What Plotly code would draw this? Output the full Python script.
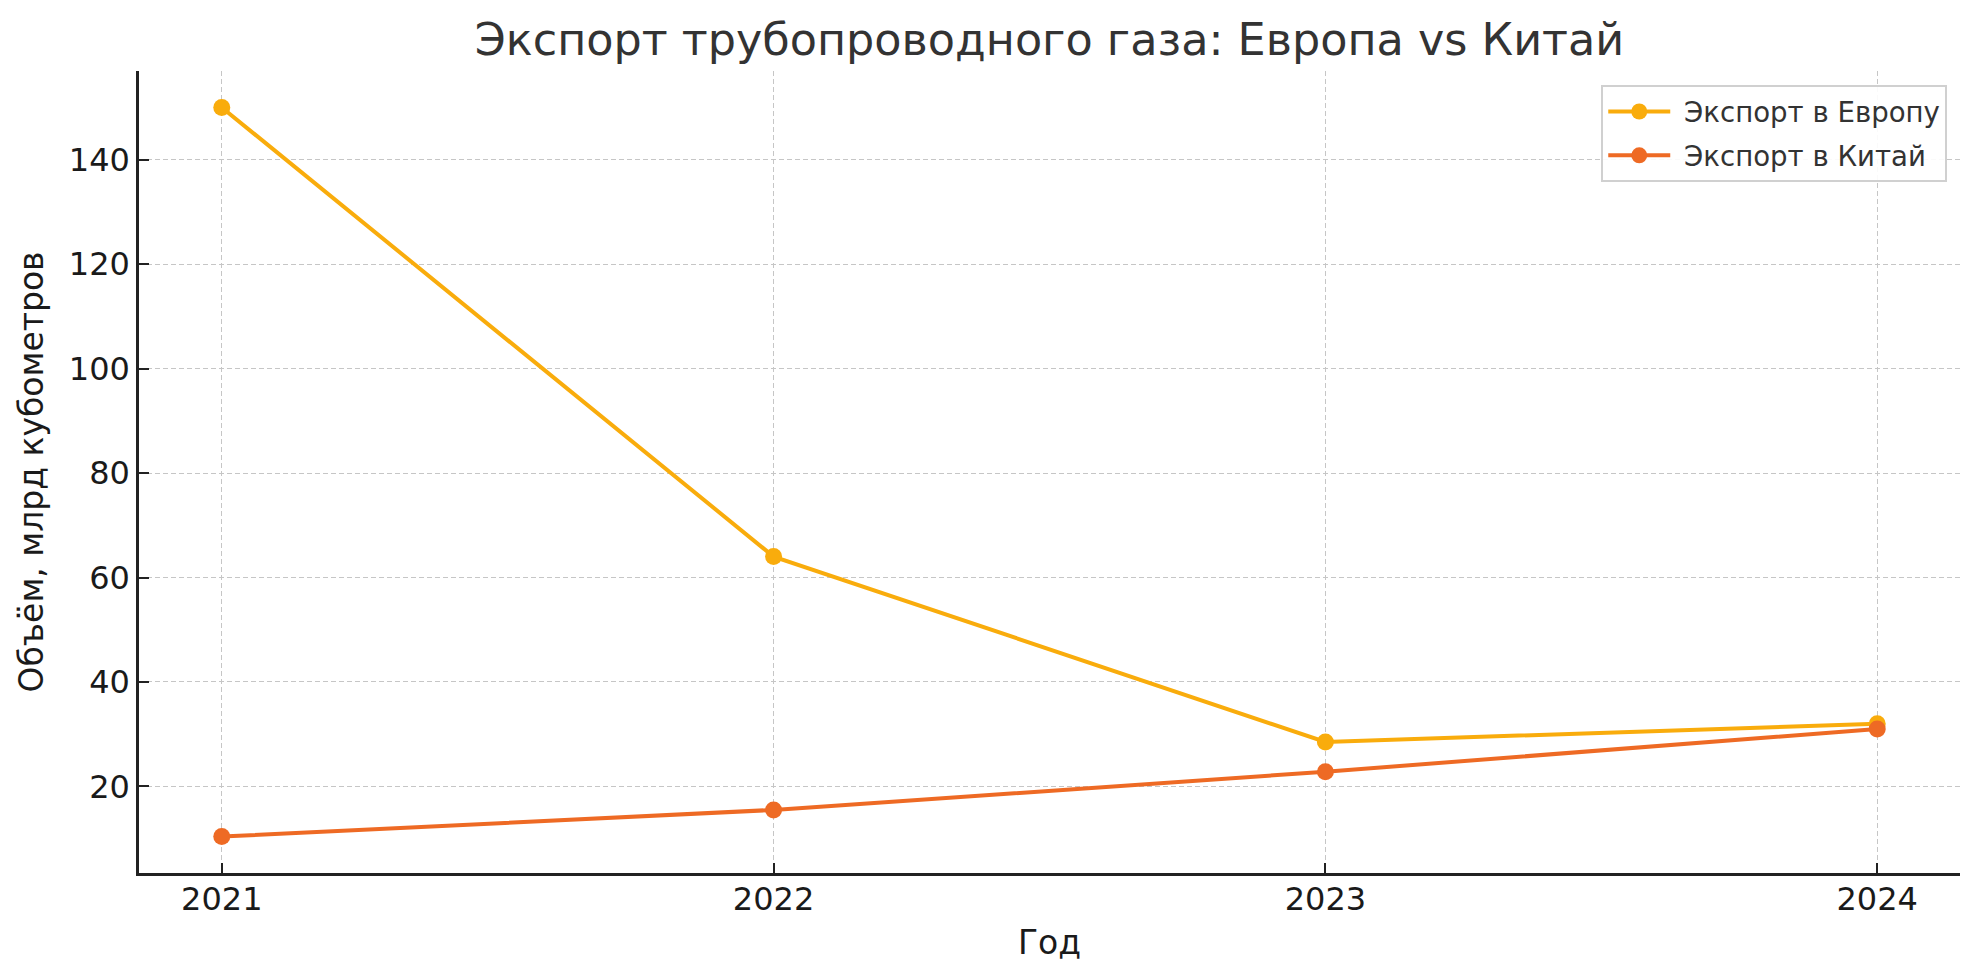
import plotly.graph_objects as go

years = [2021, 2022, 2023, 2024]
europe = [150, 64, 28.5, 32]
china = [10.4, 15.5, 22.8, 31]
series_names = ["Экспорт в Европу", "Экспорт в Китай"]
y_ticks = [20, 40, 60, 80, 100, 120, 140]

title_text = "Экспорт трубопроводного газа: Европа vs Китай"
x_title = "Год"
y_title = "Объём, млрд кубометров"

# page body has an 8px default margin, so the figure is sized to fit inside it
PAGE_PAD = 8
W, H = 1979 - 2 * PAGE_PAD, 980 - 2 * PAGE_PAD
L, T = 139 - PAGE_PAD, 71 - PAGE_PAD
R = W - (1960 - PAGE_PAD)
B = H - (873 - PAGE_PAD)
FONT = "DejaVu Sans"

fig = go.Figure()
for i, (name, vals, color) in enumerate([(series_names[0], europe, "#F9AC0C"),
                                         (series_names[1], china, "#EE6A24")]):
    fig.add_trace(go.Scatter(
        x=years, y=vals, name="\u00a0" + name, mode="lines+markers",
        legendgroup=f"g{i}",
        line=dict(color=color, width=4),
        marker=dict(color=color, size=17),
    ))

grid = dict(showgrid=True, gridcolor="#c6c6c6", gridwidth=1.4, griddash="5px,3px")

fig.update_layout(
    width=W, height=H,
    margin=dict(l=L, r=R, t=T, b=B, autoexpand=False),
    paper_bgcolor="white", plot_bgcolor="white",
    font=dict(family=FONT, color="#1a1a1a"),
    title=dict(text=title_text, x=0.5, xref="paper", xanchor="center",
               y=1 - (39 - PAGE_PAD) / H, yref="container", yanchor="middle",
               font=dict(size=44.5, color="#333333", family=FONT)),
    legend=dict(x=0.993, y=0.9825, xanchor="right", yanchor="top",
                bgcolor="rgba(255,255,255,0.9)", bordercolor="#d0d0d0", borderwidth=2,
                itemwidth=62, tracegroupgap=5,
                font=dict(size=27.6, color="#333333", family=FONT)),
    xaxis=dict(range=[2020.85, 2024.15], tickmode="array", tickvals=years,
               ticktext=[str(y) for y in years],
               showline=True, linecolor="#222222", linewidth=2.5, mirror=False,
               ticks="inside", ticklen=10, tickwidth=2, tickcolor="#222222",
               tickfont=dict(size=32, color="#1a1a1a"), ticklabelstandoff=-4,
               title=dict(text=x_title, font=dict(size=33, color="#1a1a1a"), standoff=14),
               zeroline=False, automargin=False, **grid),
    yaxis=dict(range=[3.42, 156.98], tickmode="array", tickvals=y_ticks,
               showline=True, linecolor="#222222", linewidth=2.5, mirror=False,
               ticks="inside", ticklen=10, tickwidth=2, tickcolor="#222222",
               tickfont=dict(size=32, color="#1a1a1a"), ticklabelstandoff=0,
               title=dict(text=y_title, font=dict(size=33, color="#1a1a1a"), standoff=16),
               zeroline=False, automargin=False, **grid),
)

fig.write_html("out.html")
